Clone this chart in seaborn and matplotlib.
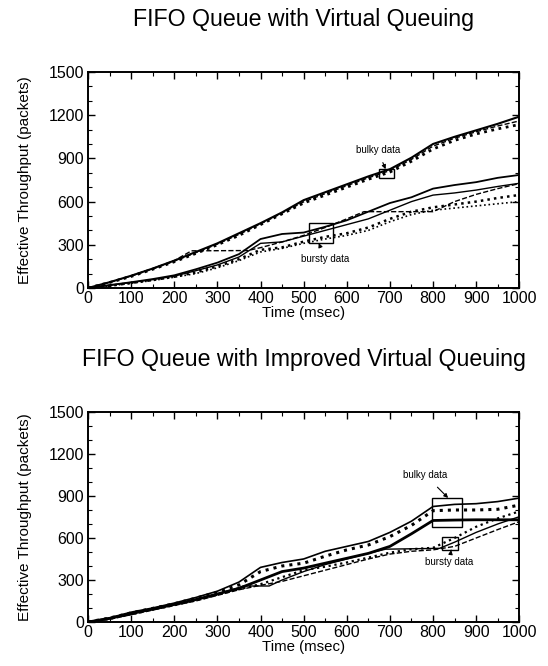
import matplotlib
matplotlib.use("Agg")
import matplotlib.pyplot as plt
from matplotlib.patches import Rectangle
from matplotlib.ticker import MultipleLocator
import seaborn as sns
import pandas as pd

sns.set_theme(style="white")
plt.rcParams['font.family'] = ['Liberation Sans', 'DejaVu Sans']
plt.rcParams['text.color'] = 'black'
plt.rcParams['axes.labelcolor'] = 'black'
plt.rcParams['xtick.color'] = 'black'
plt.rcParams['ytick.color'] = 'black'

# ---------------- data ----------------
t = [0, 50, 100, 150, 200, 250, 300, 350, 400, 450, 500,
     550, 600, 650, 700, 750, 800, 850, 900, 950, 1000]

# Top panel: FIFO Queue with Virtual Queuing
top_bulky_1 = [0, 40, 85, 135, 190, 250, 310, 380, 450, 525, 610,
               665, 720, 775, 825, 905, 1000, 1050, 1095, 1140, 1190]
top_bulky_2 = [0, 38, 80, 130, 182, 240, 300, 365, 440, 515, 590,
               645, 700, 755, 805, 880, 965, 1025, 1070, 1105, 1135]
top_bulky_3 = [0, 39, 83, 132, 186, 245, 305, 372, 445, 520, 598,
               655, 710, 765, 815, 893, 985, 1040, 1085, 1125, 1160]
top_bursty_a = [0, 20, 40, 62, 88, 130, 176, 235, 340, 375, 385,
                425, 470, 530, 590, 630, 690, 715, 735, 765, 785]
top_bursty_b = [0, 18, 38, 58, 82, 120, 160, 215, 310, 320, 360,
                400, 440, 480, 540, 600, 645, 660, 680, 705, 727]
top_bursty_c_t = [0, 50, 100, 150, 200, 240, 370, 400, 450, 500, 550,
                  600, 640, 800, 850, 900, 950, 1000]
top_bursty_c = [0, 40, 85, 135, 190, 258, 260, 280, 320, 365, 420,
                480, 530, 530, 600, 650, 690, 725]
top_bursty_d = [0, 15, 35, 55, 78, 108, 150, 200, 265, 282, 322,
                355, 380, 420, 480, 530, 560, 580, 600, 625, 646]
top_bursty_e = [0, 14, 33, 52, 75, 100, 140, 190, 250, 275, 310,
                340, 365, 400, 460, 510, 540, 555, 570, 585, 600]

# Bottom panel: FIFO Queue with Improved Virtual Queuing
bot_bulky_1 = [0, 30, 70, 100, 135, 175, 220, 285, 390, 425, 450,
               505, 540, 575, 640, 720, 825, 840, 845, 860, 885]
bot_bulky_2 = [0, 28, 65, 97, 130, 170, 212, 265, 360, 400, 420,
               470, 515, 550, 610, 690, 795, 800, 800, 805, 835]
bot_bulky_3 = [0, 25, 60, 92, 125, 160, 200, 240, 300, 360, 385,
               420, 455, 490, 540, 630, 725, 728, 730, 730, 730]
bot_bursty_a_t = [0, 50, 100, 150, 200, 250, 300, 350, 360, 420, 450,
                  500, 550, 600, 650, 690, 815, 850, 900, 950, 1000]
bot_bursty_a = [0, 25, 60, 92, 125, 160, 200, 245, 257, 257, 300,
                360, 410, 450, 490, 520, 526, 570, 640, 700, 752]
bot_bursty_b = [0, 22, 55, 88, 120, 155, 195, 235, 270, 320, 370,
                395, 425, 460, 495, 520, 530, 600, 680, 740, 790]
bot_bursty_c = [0, 20, 52, 85, 118, 150, 190, 230, 262, 290, 330,
                370, 410, 450, 485, 505, 515, 540, 600, 660, 717]

x_ticks = [0, 100, 200, 300, 400, 500, 600, 700, 800, 900, 1000]
y_ticks = [0, 300, 600, 900, 1200, 1500]

titles = ["FIFO Queue with Virtual Queuing",
          "FIFO Queue with Improved Virtual Queuing"]

# ---------------- figure ----------------
fig = plt.figure(figsize=(5.48, 6.66), dpi=100)
ax1 = fig.add_axes([0.1606, 0.5676, 0.787, 0.3243])
ax2 = fig.add_axes([0.1606, 0.0661, 0.787, 0.3153])


def draw(ax, series):
    for xs, ys, ls, lw in series:
        sns.lineplot(x=xs, y=ys, ax=ax, color="black", linestyle=ls,
                     linewidth=lw, legend=False, sort=False)


draw(ax1, [
    (t, top_bulky_1, "-", 1.5),
    (t, top_bulky_2, ":", 2.0),
    (t, top_bulky_3, "--", 1.0),
    (t, top_bursty_a, "-", 1.3),
    (t, top_bursty_b, "-", 1.0),
    (top_bursty_c_t, top_bursty_c, "--", 1.0),
    (t, top_bursty_d, ":", 1.8),
    (t, top_bursty_e, ":", 1.2),
])

draw(ax2, [
    (t, bot_bulky_1, "-", 1.2),
    (t, bot_bulky_2, ":", 2.2),
    (t, bot_bulky_3, "-", 2.0),
    (bot_bursty_a_t, bot_bursty_a, "-", 1.0),
    (t, bot_bursty_b, ":", 1.6),
    (t, bot_bursty_c, "--", 1.0),
])

for ax, title in zip([ax1, ax2], titles):
    ax.set_xlim(0, 1000)
    ax.set_ylim(0, 1500)
    ax.set_xticks(x_ticks)
    ax.set_yticks(y_ticks)
    ax.xaxis.set_minor_locator(MultipleLocator(50))
    ax.yaxis.set_minor_locator(MultipleLocator(100))
    ax.tick_params(which="both", direction="in", top=True, right=True,
                   bottom=True, left=True, colors="black", labelsize=11.5,
                   labelcolor="black")
    ax.tick_params(which="major", length=5, width=1, pad=3)
    ax.tick_params(axis="x", which="major", pad=2)
    ax.tick_params(which="minor", length=3, width=0.8)
    for sp in ax.spines.values():
        sp.set_color("black")
        sp.set_linewidth(1.4)
    ax.set_xlabel("Time (msec)", fontsize=10.8, labelpad=0, color="black")
    ax.set_ylabel("Effective Throughput (packets)", fontsize=11, labelpad=12,
                  color="black")
    ax.set_title(title, fontsize=16.7, pad=33, color="black")
    ax.grid(False)

# annotations top
ax1.add_patch(Rectangle((675, 765), 35, 60, fill=False, ec="black", lw=1))
ax1.annotate("bulky data", xy=(690, 825), xytext=(672, 955), fontsize=7,
             ha="center", va="center", color="black",
             arrowprops=dict(arrowstyle="-|>", color="black", lw=0.8,
                             mutation_scale=6, shrinkA=3, shrinkB=0))
ax1.add_patch(Rectangle((513, 312), 55, 140, fill=False, ec="black", lw=1))
ax1.annotate("bursty data", xy=(535, 312), xytext=(550, 200), fontsize=7,
             ha="center", va="center", color="black",
             arrowprops=dict(arrowstyle="-|>", color="black", lw=0.8,
                             mutation_scale=6, shrinkA=3, shrinkB=0))

# annotations bottom
ax2.add_patch(Rectangle((798, 679), 70, 207, fill=False, ec="black", lw=1))
ax2.annotate("bulky data", xy=(835, 886), xytext=(782, 1050), fontsize=7,
             ha="center", va="center", color="black",
             arrowprops=dict(arrowstyle="-|>", color="black", lw=0.8,
                             mutation_scale=6, shrinkA=4, shrinkB=0))
ax2.add_patch(Rectangle((821, 514), 37, 93, fill=False, ec="black", lw=1))
ax2.annotate("bursty data", xy=(842, 514), xytext=(838, 425), fontsize=7,
             ha="center", va="center", color="black",
             arrowprops=dict(arrowstyle="-|>", color="black", lw=0.8,
                             mutation_scale=6, shrinkA=3, shrinkB=0))

fig.savefig("out.png", dpi=100, facecolor="white")
